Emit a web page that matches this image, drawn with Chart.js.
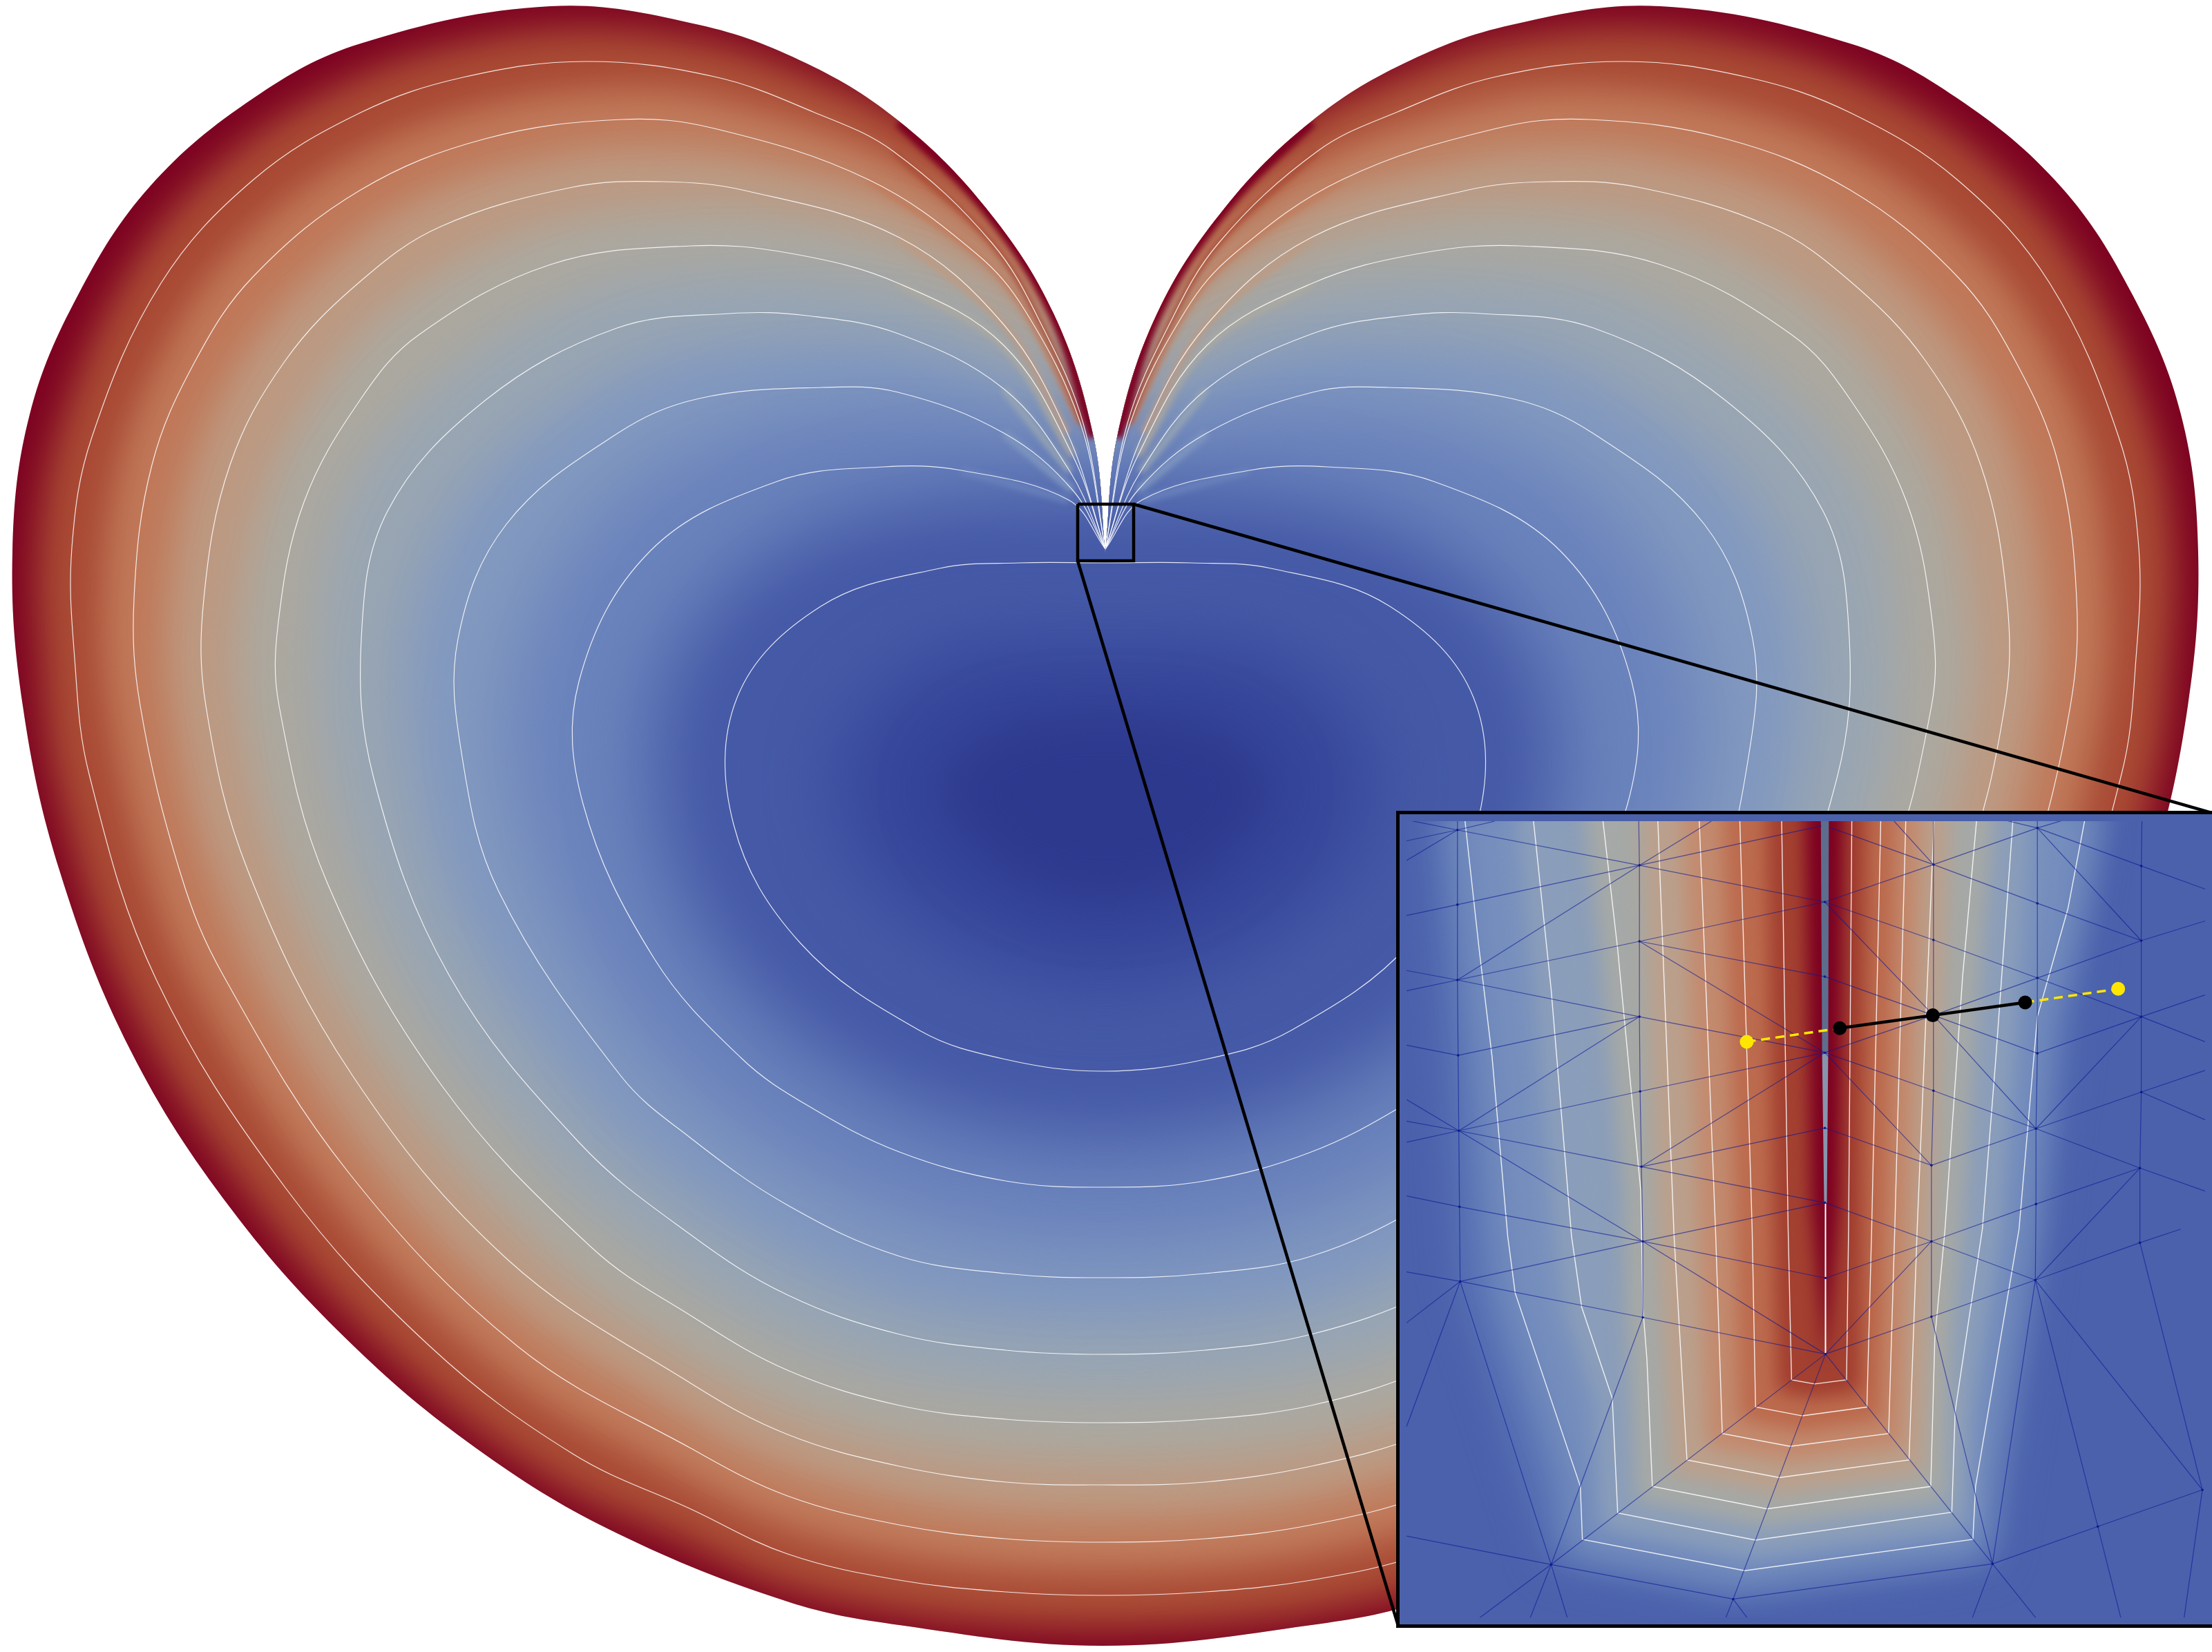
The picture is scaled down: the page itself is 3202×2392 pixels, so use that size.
<!DOCTYPE html>
<html>
<head>
    <title>Contours with inset</title>
    <script src="https://cdn.jsdelivr.net/npm/chart.js@4.4.0/dist/chart.umd.js"></script>
    <style>
        html, body { margin: 0; padding: 0; background: #fff; overflow: hidden; }
        #main { position: absolute; left: 0; top: 0; }
        #insetBox { position: absolute; left: 2021px; top: 1174px; width: 1186px; height: 1183px;
                    border: 5px solid #000; box-sizing: border-box; overflow: hidden; background: #4b61ac; }
    </style>
</head>
<body>
    <canvas id="main" width="3202" height="2392"></canvas>
    <div id="insetBox"><canvas id="inset" width="1176" height="1173"></canvas></div>

    <script>
        // outlines, in picture pixels
        const outerEdge = [[1600,802],[1583,633],[1525,454],[1427,301],[1302,176],[1168,92],[1012,36],[797,9],[522,63],[367,142],[217,270],[113,427],[43,600],[18,800],[33,1022],[86,1260],[189,1521],[335,1751],[513,1950],[702,2106],[893,2220],[1140,2319],[1302,2353],[1596,2383],
            [1898,2353],[2060,2319],[2307,2220],[2498,2106],[2687,1950],[2865,1751],[3011,1521],[3114,1260],[3167,1022],[3182,800],[3157,600],[3087,427],[2983,270],[2833,142],[2678,63],[2403,9],[2188,36],[2032,92],[1898,176],[1773,301],[1675,454],[1617,633],[1600,802]];
        const contour8 = [[1600,795],[1568,613],[1510,475],[1436,352],[1293,219],[1177,162],[1034,111],[848,89],[670,112],[522,163],[367,260],[233,410],[133,633],[104,793],[108,953],[129,1121],[226,1418],[414,1721],[623,1950],[829,2105],[1000,2185],[1140,2250],[1302,2288],[1456,2305],[1596,2310],
            [1744,2305],[1898,2288],[2060,2250],[2200,2185],[2371,2105],[2577,1950],[2786,1721],[2974,1418],[3071,1121],[3092,953],[3096,793],[3067,633],[2967,410],[2833,260],[2678,163],[2530,112],[2352,89],[2166,111],[2023,162],[1907,219],[1764,352],[1690,475],[1632,613],[1600,795]];
        const contour7 = [[1600,795],[1564,613],[1484,450],[1413,367],[1257,260],[1034,186],[900,173],[702,201],[522,275],[367,400],[283,522],[220,673],[194,867],[203,1022],[262,1267],[323,1412],[504,1697],[750,1950],[1000,2097],[1140,2166],[1302,2208],[1456,2228],[1596,2233],
            [1744,2228],[1898,2208],[2060,2166],[2200,2097],[2450,1950],[2696,1697],[2877,1412],[2938,1267],[2997,1022],[3006,867],[2980,673],[2917,522],[2833,400],[2678,275],[2498,201],[2300,173],[2166,186],[1943,260],[1787,367],[1716,450],[1636,613],[1600,795]];
        const contour6 = [[1600,795],[1545,627],[1453,470],[1302,344],[1079,276],[958,263],[829,271],[638,328],[522,407],[413,522],[333,673],[295,867],[298,1022],[359,1261],[510,1557],[735,1824],[1000,2003],[1140,2077],[1302,2123],[1456,2146],[1596,2150],
            [1744,2146],[1898,2123],[2060,2077],[2200,2003],[2465,1824],[2690,1557],[2841,1261],[2902,1022],[2905,867],[2867,673],[2787,522],[2678,407],[2562,328],[2371,271],[2242,263],[2121,276],[1898,344],[1747,470],[1655,627],[1600,795]];
        const contour5 = [[1600,795],[1553,660],[1453,500],[1300,410],[1145,367],[1000,356],[797,383],[606,485],[522,578],[440,727],[403,900],[404,1022],[474,1279],[638,1570],[856,1806],[1000,1905],[1140,1984],[1302,2035],[1456,2055],[1596,2060],
            [1744,2055],[1898,2035],[2060,1984],[2200,1905],[2344,1806],[2562,1570],[2726,1279],[2796,1022],[2797,900],[2760,727],[2678,578],[2594,485],[2403,383],[2200,356],[2055,367],[1900,410],[1747,500],[1647,660],[1600,795]];
        const contour4 = [[1600,795],[1549,683],[1453,563],[1300,483],[1168,457],[1056,454],[893,475],[702,580],[561,740],[523,925],[541,1127],[650,1412],[838,1654],[1000,1788],[1140,1875],[1302,1932],[1456,1955],[1596,1961],
            [1744,1955],[1898,1932],[2060,1875],[2200,1788],[2362,1654],[2550,1412],[2659,1127],[2677,925],[2639,740],[2498,580],[2307,475],[2144,454],[2032,457],[1900,483],[1747,563],[1651,683],[1600,795]];
        const contour3 = [[1600,795],[1553,710],[1453,627],[1300,568],[1190,561],[1012,577],[893,628],[733,759],[663,925],[668,1090],[722,1291],[898,1557],[1000,1648],[1140,1745],[1302,1819],[1456,1844],[1596,1850],
            [1744,1844],[1898,1819],[2060,1745],[2200,1648],[2302,1557],[2478,1291],[2532,1090],[2537,925],[2467,759],[2307,628],[2188,577],[2010,561],[1900,568],[1747,627],[1647,710],[1600,795]];
        const contour2 = [[1600,795],[1547,724],[1391,681],[1279,676],[1125,697],[941,798],[838,987],[844,1164],[947,1388],[1073,1532],[1168,1600],[1302,1668],[1456,1710],[1596,1719],
            [1744,1710],[1898,1668],[2032,1600],[2127,1532],[2253,1388],[2356,1164],[2362,987],[2259,798],[2075,697],[1921,676],[1809,681],[1653,724],[1600,795]];
        const contour1 = [[1600,815],[1475,815],[1360,823],[1188,878],[1067,1010],[1062,1194],[1159,1366],[1331,1492],[1456,1534],[1596,1551],
            [1744,1534],[1869,1492],[2041,1366],[2138,1194],[2133,1010],[2012,878],[1840,823],[1725,815],[1600,815]];
        const coreMid = [[1600,930],[1400,940],[1280,1010],[1220,1110],[1250,1240],[1340,1330],[1450,1390],[1600,1420],[1750,1390],[1860,1330],[1950,1240],[1980,1110],[1920,1010],[1800,940],[1600,930]];
        const coreDark = [[1600,1030],[1450,1050],[1360,1130],[1400,1220],[1500,1290],[1600,1310],[1700,1290],[1800,1220],[1840,1130],[1750,1050],[1600,1030]];

        const zoomBox = [[1560,730],[1641,730],[1641,812],[1560,812],[1560,730]];
        const zoomLinkTop = [[1641,730],[3202,1177]];
        const zoomLinkBottom = [[1560,812],[2024,2354]];

        // same levels seen through the zoomed window
        const windowU1 = [[2578,1150],[2588,1780],[2593,2002],[2627,2008],[2674,2002],[2677,1780],[2682,1150]];
        const windowU2 = [[2516,1150],[2535,1780],[2540,2042],[2609,2055],[2704,2042],[2711,1780],[2725,1150]];
        const windowU3 = [[2456,1150],[2481,1780],[2491,2081],[2591,2100],[2736,2081],[2745,1780],[2762,1150]];
        const windowU4 = [[2395,1150],[2420,1790],[2439,2120],[2575,2146],[2766,2120],[2778,1780],[2804,1150]];
        const windowU5 = [[2312,1150],[2337,1368],[2371,1724],[2374,1895],[2380,1971],[2388,2159],[2557,2192],[2798,2159],[2804,1941],[2819,1780],[2845,1407],[2868,1150]];
        const windowU6 = [[2210,1150],[2239,1427],[2269,1790],[2284,1895],[2329,2029],[2337,2198],[2540,2238],[2829,2197],[2834,2048],[2874,1780],[2894,1526],[2921,1150]];
        const windowU7 = [[2109,1150],[2133,1368],[2152,1526],[2175,1790],[2186,1874],[2282,2159],[2285,2237],[2524,2283],[2860,2237],[2864,2159],[2928,1780],[2955,1467],[3000,1308],[3030,1150]];
        const windowGlow = [[2060,1150],[2105,1857],[2239,2274],[2507,2325],[2889,2273],[2952,1855],[3040,1150]];
        const windowRed = [[2613,1150],[2622,1741],[2643,1975],[2664,1741],[2670,1150]];
        const windowGap = [[2636,1150],[2648,1150],[2647,1520],[2638,1520],[2636,1150]];
        const windowGapLow = [[2638,1520],[2647,1520],[2645,1741],[2641,1741],[2638,1520]];
        const windowSlit = [[2643,1741],[2643,1964]];

        const meshNodes = {
            A0:[2101,1192],A1:[2101,1302],A2:[2101,1413],A3:[2102,1524],A4:[2103,1635],A5:[2104,1747],A6:[2105,1857],
            B0:[2369,1244],B1:[2369,1356],B2:[2369,1467],B3:[2370,1577],B4:[2372,1688],B5:[2374,1798],B6:[2374,1910],
            C0:[2642,1298],C1:[2642,1408],C2:[2642,1520],C3:[2642,1631],C4:[2642,1741],C5:[2643,1852],T:[2643,1964],
            D0:[2802,1243],D1:[2802,1354],D2:[2802,1465],D3:[2802,1576],D4:[2799,1686],D5:[2799,1798],D6:[2799,1909],
            E0:[2955,1189],E1:[2955,1300],E2:[2955,1410],E3:[2955,1521],E4:[2953,1632],E5:[2953,1743],E6:[2952,1855],
            F0:[3108,1245],F1:[3108,1355],F2:[3108,1467],F3:[3108,1578],F4:[3106,1690],F5:[3106,1800],
            P:[2239,2274],Q:[2507,2325],R:[2889,2273],S:[3044,2218],U:[3198,2164]
        };
        const meshBorder = {
            l0:[2026,1177],l1:[2026,1318],l2:[2026,1429],l3:[2026,1399],l4:[2026,1509],l5:[2026,1621],l6:[2026,1652],l7:[2026,1731],l8:[2026,1843],l9:[2026,1918],l10:[2026,2071],l11:[2026,2232],l12:[2026,1237],l13:[2026,1208],l14:[2026,1589],
            t0:[2156,1179],t1:[2475,1179],t2:[2637,1186],t3:[2649,1188],t4:[2744,1179],t5:[2909,1178],t6:[2992,1178],t7:[2101,1179],t8:[2368,1179],t9:[2802,1179],t10:[2955,1179],t11:[3109,1179],
            r0:[3202,1279],r1:[3202,1326],r2:[3202,1504],r3:[3202,1435],r4:[3202,1546],r5:[3202,1619],r6:[3202,1724],r7:[3166,1780],
            b0:[2133,2353],b1:[2208,2353],b2:[2263,2353],b3:[2496,2353],b4:[2528,2353],b5:[2859,2353],b6:[2953,2353],b7:[3078,2353],b8:[3171,2353]
        };
        const meshPaths = [
            't7 A0 A1 A2 A3 A4 A5 A6','t8 B0 B1 B2 B3 B4 B5 B6','t9 D0 D1 D2 D3 D4 D5 D6','t10 E0 E1 E2 E3 E4 E5 E6','t11 F0 F1 F2 F3 F4 F5',
            'l0 A0 B0 C0','l1 A1 B0 t2','A2 B0 t1','l3 A2 B2 C2','l2 A2 B1 C0','A3 B2','l4 A3','B1 C1','B1 C2','l5 A4 B3 C2','l6 A4','A4 B2','l14 A4','A4 B4 C4',
            'l7 A5 B5 C5','C3 B4','C2 B4','A6 B5 C4','l8 A6 B6 T','l9 A6','l10 A6','A4 B5','B5 T','l12 A0','l13 A0','A0 t0',
            't3 D0 E1 F1','C0 D0 E0 t6','C0 D1 E2 F2 r2','C0 D2','D2 E2','E2 F1 r1','E0 F1','E0 F0 r0','D0 t4','E0 t5','C1 D2 E3 F2','F2 r3','C2 D2','C2 D3 E4 F4 r6','C2 D4',
            'C3 D4 E4 F3 r4','F3 r5','D2 E4','F2 E4','C4 D5 E5 F4','T D6 E6','C5 D5','D5 E6 F5 r7','E6 F4','E6 S','E6 U','F5 U','D5 T',
            'l11 P Q R S U','T P','T Q','T R','B6 P','A6 P','D6 R','E6 R','P b0','P b1','P b2','Q b3','Q b4','R b5','R b6','S b7','U b8'
        ];
        const probeStart = [[2527,1504],[2664,1484]];
        const probeMiddle = [[2664,1484],[2801,1465],[2937,1446]];
        const probeEnd = [[2937,1446],[3074,1426]];

        const toPoints = list => list.map(p => ({ x: p[0], y: p[1] }));

        // fill gradient: each dataset can ask for a canvas blur, the filler runs inside the hook before ours
        const softBands = {
            id: 'softBands',
            beforeDatasetsDraw(chart) {
                const first = chart.getSortedVisibleDatasetMetas().slice(-1)[0];
                chart.ctx.filter = blurOf(chart, first);
            },
            afterDatasetDraw(chart, args) {
                const ds = chart.data.datasets[args.index];
                const ctx = chart.ctx;
                if (ds.startClip) {
                    ctx.save();
                    ctx.beginPath();
                    args.meta.dataset.path(ctx);
                    ctx.clip();
                }
                if (ds.endClip) ctx.restore();
                const metas = chart.getSortedVisibleDatasetMetas();
                const next = metas[metas.indexOf(args.meta) - 1];
                ctx.filter = next ? blurOf(chart, next) : 'none';
            },
            afterDatasetsDraw(chart) { chart.ctx.filter = 'none'; }
        };
        function blurOf(chart, meta) {
            const b = chart.data.datasets[meta.index].blur;
            return b ? 'blur(' + b + 'px)' : 'none';
        }
        Chart.register(softBands);

        const curve = 0.37;
        function band(list, color, blur, grow, tension) {
            return { data: toPoints(list), fill: 'shape', backgroundColor: color, borderColor: color,
                     borderWidth: grow || 0, pointRadius: 0, tension: tension === undefined ? curve : tension, blur: blur,
                     capBezierPoints: false };
        }
        function stroke(list, color, width, tension) {
            return { data: toPoints(list), fill: false, borderColor: color, borderWidth: width,
                     pointRadius: 0, tension: tension === undefined ? curve : tension, capBezierPoints: false };
        }
        // level colour laid along the contour beside the notch, where the wide blur washes it out
        function ridges(list, n, color, width, blur) {
            return [
                Object.assign(stroke(list.slice(1, n), color, width), { blur: blur }),
                Object.assign(stroke(list.slice(-n, -1), color, width), { blur: blur })
            ];
        }
        function setOrder(sets) {
            sets.forEach((s, i) => { s.order = sets.length - i; });
            return sets;
        }
        function makeChart(id, sets, xMin, xMax, yMin, yMax) {
            return new Chart(document.getElementById(id), {
                type: 'line',
                data: { datasets: setOrder(sets) },
                options: {
                    responsive: false,
                    animation: false,
                    layout: { padding: 0 },
                    plugins: { legend: { display: false }, tooltip: { enabled: false } },
                    scales: {
                        x: { type: 'linear', display: false, min: xMin, max: xMax },
                        y: { type: 'linear', display: false, reverse: true, min: yMin, max: yMax }
                    }
                }
            });
        }

        const whiteLine = 'rgba(255,255,255,0.85)';
        const outerSet = band(outerEdge, '#7c0021', 0, 0);
        outerSet.startClip = true;
        const lastInner = stroke(contour1, whiteLine, 1.2);
        lastInner.endClip = true;

        makeChart('main', [
            outerSet,
            band(contour8, '#a94a34', 28, 100),
            band(contour7, '#c17a5a', 30, 90),
            band(contour6, '#bd9a82', 32, 100),
            band(contour5, '#aca9a0', 35, 110),
            band(contour4, '#99a6b3', 40, 120),
            band(contour3, '#8299c0', 45, 140),
            band(contour2, '#6a83bc', 55, 180),
            band(contour1, '#4458a6', 60, 200),
            band(coreMid, '#36469a', 50, 0),
            band(coreDark, '#2d398d', 40, 0),
            ...ridges(contour2, 3, '#6a83bc', 10, 5),
            ...ridges(contour3, 3, '#8299c0', 10, 5),
            ...ridges(contour4, 3, '#99a6b3', 10, 5),
            ...ridges(contour5, 4, '#aca9a0', 10, 5),
            ...ridges(contour6, 4, '#bd9a82', 9, 4),
            ...ridges(contour7, 5, '#c17a5a', 8, 4),
            ...ridges(contour8, 5, '#a94a34', 8, 4),
            ...ridges(outerEdge, 5, '#7c0021', 16, 4),
            stroke(contour8, whiteLine, 1.2), stroke(contour7, whiteLine, 1.2), stroke(contour6, whiteLine, 1.2),
            stroke(contour5, whiteLine, 1.2), stroke(contour4, whiteLine, 1.2), stroke(contour3, whiteLine, 1.2),
            stroke(contour2, whiteLine, 1.2), lastInner,
            stroke(zoomBox, '#000', 4.5, 0), stroke(zoomLinkTop, '#000', 4.5, 0), stroke(zoomLinkBottom, '#000', 4.5, 0)
        ], 0, 3202, 0, 2392);

        // mesh edges as one broken line
        const allNodes = Object.assign({}, meshNodes, meshBorder);
        const meshData = [];
        meshPaths.forEach(path => {
            path.split(' ').forEach(name => meshData.push({ x: allNodes[name][0], y: allNodes[name][1] }));
            meshData.push({ x: NaN, y: NaN });
        });
        const meshLine = { data: meshData, fill: false, borderColor: 'rgba(15,25,150,0.62)', borderWidth: 1.2, pointRadius: 0, tension: 0, spanGaps: false };
        const meshDots = { data: Object.values(meshNodes).map(p => ({ x: p[0], y: p[1] })), showLine: false, pointRadius: 1.8, pointBackgroundColor: '#101a8a', pointBorderWidth: 0 };
        const probeDash = s => Object.assign(stroke(s, '#ffe600', 3.5, 0), { borderDash: [13, 8] });
        const probeDots = (s, c, r) => ({ data: toPoints(s), showLine: false, pointRadius: r, pointBackgroundColor: c, pointBorderWidth: 0 });

        makeChart('inset', [
            band(windowGlow, '#5d77b6', 28, 0, 0),
            band(windowU7, '#7891be', 26, 30, 0),
            band(windowU6, '#8b9eba', 16, 50, 0),
            band(windowU5, '#a6a9a6', 15, 50, 0),
            band(windowU4, '#bba08c', 14, 45, 0),
            band(windowU3, '#c38a6e', 14, 45, 0),
            band(windowU2, '#bc6a4d', 14, 45, 0),
            band(windowU1, '#a23f30', 13, 40, 0),
            band(windowRed, '#7c0021', 11, 0, 0),
            stroke(windowU7, whiteLine, 1.4, 0), stroke(windowU6, whiteLine, 1.4, 0), stroke(windowU5, whiteLine, 1.4, 0),
            stroke(windowU4, whiteLine, 1.4, 0), stroke(windowU3, whiteLine, 1.4, 0), stroke(windowU2, whiteLine, 1.4, 0),
            stroke(windowU1, whiteLine, 1.4, 0),
            band(windowGap, '#5d6d8e', 0, 0, 0), band(windowGapLow, '#8795ad', 0, 0, 0), stroke(windowSlit, '#ffffff', 2, 0),
            meshLine, meshDots,
            probeDash(probeStart), probeDash(probeEnd), stroke(probeMiddle, '#000', 4.5, 0),
            probeDots([probeStart[0], probeEnd[1]], '#ffe600', 10),
            probeDots(probeMiddle, '#000', 10)
        ], 2026, 3202, 1179, 2352);
    </script>
</body>
</html>
